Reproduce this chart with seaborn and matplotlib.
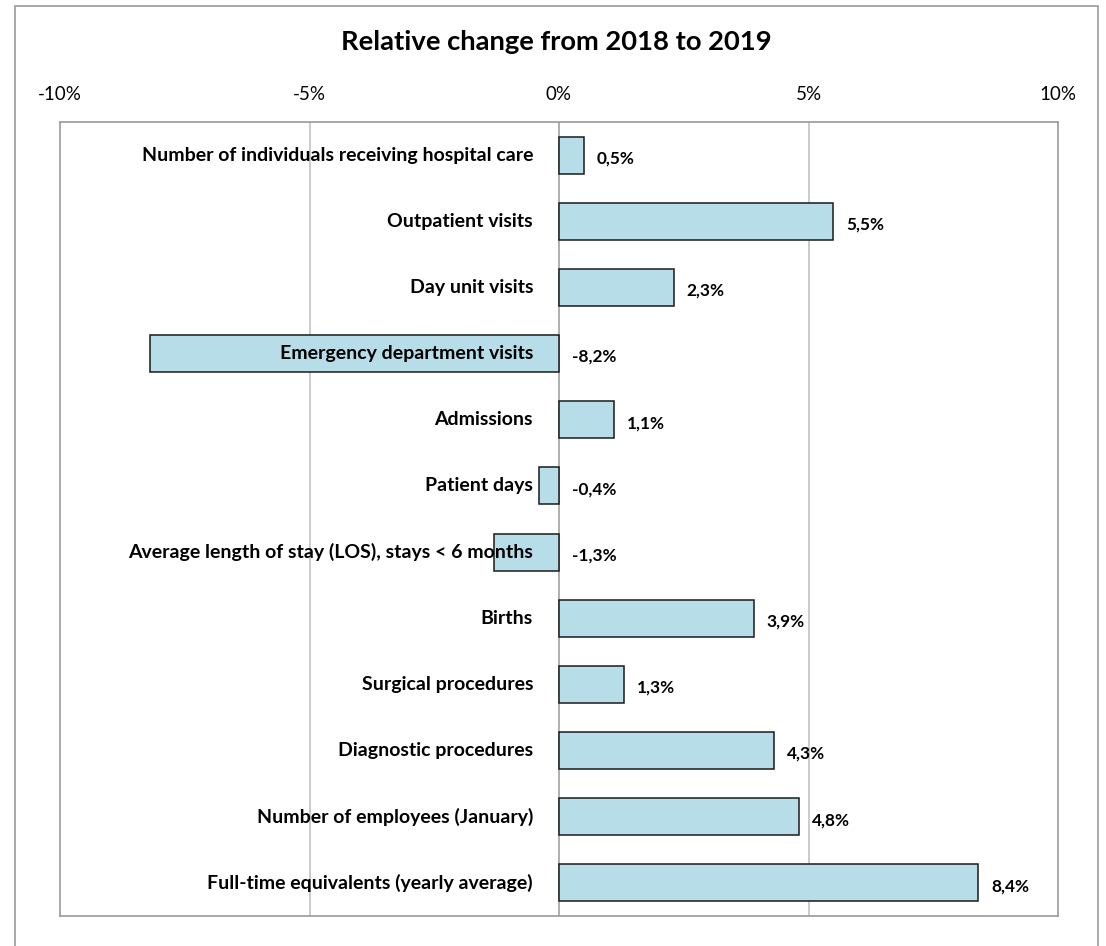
import pandas as pd
import seaborn as sns
import matplotlib.pyplot as plt
from matplotlib.patches import Rectangle

categories = [
    "Number of individuals receiving hospital care",
    "Outpatient visits",
    "Day unit visits",
    "Emergency department visits",
    "Admissions",
    "Patient days",
    "Average length of stay (LOS), stays < 6 months",
    "Births",
    "Surgical procedures",
    "Diagnostic procedures",
    "Number of employees (January)",
    "Full-time equivalents (yearly average)",
]
changes = [0.5, 5.5, 2.3, -8.2, 1.1, -0.4, -1.3, 3.9, 1.3, 4.3, 4.8, 8.4]
xticks = [-10, -5, 0, 5, 10]

df = pd.DataFrame({"category": categories, "change": changes})

sns.set_style("white")
plt.rcParams['font.family'] = ['Lato', 'DejaVu Sans']
plt.rcParams['text.color'] = 'black'
plt.rcParams['xtick.color'] = 'black'

fig = plt.figure(figsize=(11.06, 9.46), dpi=100)
ax = fig.add_axes([60 / 1106, 1 - 916 / 946, 998 / 1106, 794 / 946])

# outer chart frame
fig.patches.append(Rectangle((15 / 1106, -0.05), 1083 / 1106, 1.05 - 6 / 946,
                             transform=fig.transFigure, fill=False,
                             edgecolor='#9a9a9a', linewidth=1.2))

sns.barplot(data=df, y="category", x="change", orient="h", ax=ax,
            color="#b7dde8", edgecolor="#1a1a1a", linewidth=1.1,
            width=0.56, saturation=1, zorder=3)

ax.set_xlim(-10, 10)
ax.set_ylim(len(categories) - 0.5, -0.5)
ax.set_xticks(xticks)
ax.set_xticklabels([f"{t}%" for t in xticks], fontsize=13.5)
for x in [-5, 0, 5]:
    ax.axvline(x, color='#bdbdbd' if x else '#9a9a9a', linewidth=1.1, zorder=1)
ax.tick_params(axis='x', top=True, labeltop=True, bottom=False,
               labelbottom=False, length=0, pad=14)
ax.set_yticks([])
ax.set_xlabel("")
ax.set_ylabel("")
for s in ax.spines.values():
    s.set_color('#9a9a9a')
    s.set_linewidth(1.2)

for i, (cat, val) in enumerate(zip(categories, changes)):
    ax.text(-0.52, i, cat, ha='right', va='center', fontsize=14,
            fontweight='bold', color='black', zorder=5)
    xpos = max(val, 0) + 0.26
    ax.text(xpos, i + 0.05, f"{val:.1f}%".replace('.', ','), ha='left',
            va='center', fontsize=12.4, fontweight='bold', color='black',
            zorder=5)

fig.text(556 / 1106, 1 - 42 / 946, "Relative change from 2018 to 2019",
         ha='center', va='center', fontsize=19.7, fontweight='bold',
         color='black')

plt.savefig("out.png", dpi=100)
